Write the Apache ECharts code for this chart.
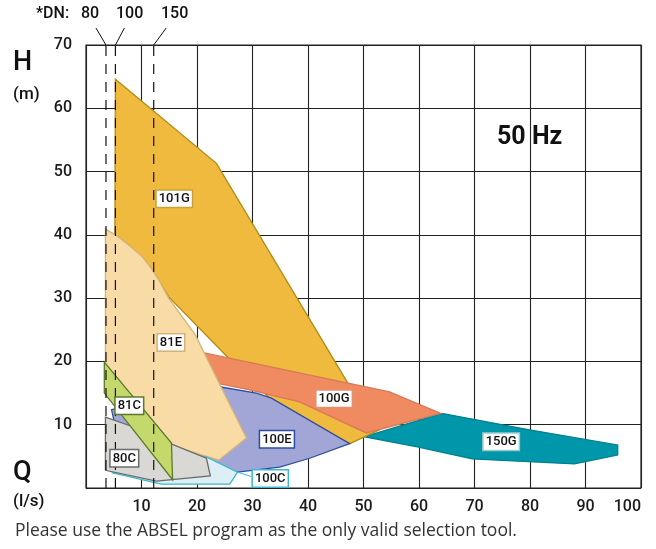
<!DOCTYPE html>
<html><head><meta charset="utf-8">
<script src="https://cdn.jsdelivr.net/npm/echarts@6/dist/echarts.min.js"></script>
<style>html,body{margin:0;padding:0;background:#fff}#c{width:656px;height:549px}</style>
</head><body><div id="c"></div>
<script>
// Axis ranges / ticks
const xMin = 0, xMax = 100, xStep = 10;
const yMin = 0, yMax = 70, yStep = 10;

// Pipe size (DN) reference lines, Q in l/s
const dnNames = ['80', '100', '150'];
const dnQ = [3.6, 5.3, 12.2];

// Operating regions [Q (l/s), H (m)]
const region150G = [[50.2,8.1],[64.1,11.8],[79.9,9.2],[95.8,6.8],[95.8,5.2],[88.0,3.8],[69.6,4.6],[59.7,6.5]];
const region101G = [[5.3,64.6],[23.5,51.3],[47.1,16.7],[52.9,9.2],[47.5,7.0],[33.4,13.9],[25.5,20.7],[14.9,30.2],[11.6,34.9],[7.7,38.4],[5.2,40.0]];
const region100G = [[20.45,21.5],[39.5,18.0],[54.7,15.2],[63.9,11.8],[50.5,8.7],[38.5,13.6],[29.5,15.5],[23.2,16.6]];
const region100E = [[4.6,12.4],[24.05,16.0],[30.7,15.0],[33.4,14.2],[47.5,7.0],[40.3,4.7],[34.9,3.3],[27.3,2.5],[11.4,3.2],[6.0,6.8]];
const region81E = [[3.5,40.9],[5.3,40.0],[7.7,38.4],[10.2,36.5],[11.6,34.9],[13.1,32.9],[14.9,30.0],[19.7,24.2],[28.9,7.9],[23.9,4.4],[15.0,6.8],[3.5,18.6]];
const region100C = [[4.8,2.4],[13.6,0.6],[25.9,0.6],[27.3,2.5],[21.7,4.9],[7.8,4.1]];
const region80C = [[3.5,11.2],[8.7,9.6],[15.0,7.1],[21.7,4.7],[22.4,1.9],[12.7,1.1],[3.5,2.8]];
const region81C = [[3.3,19.9],[15.4,7.1],[15.6,1.3],[3.3,15.0]];

// Region label names and anchor positions [Q, H]
const labelNames = ['101G','81E','100G','100E','81C','80C','100C','150G'];
const labelPos = [[15.9,45.7],[15.3,23.0],[44.7,14.1],[34.4,7.7],[7.8,13.0],[6.9,4.7],[33.2,1.5],[74.8,7.3]];

const regions = [
  {name:'150G', pts:region150G, fill:'#0097AA', stroke:'#00808F'},
  {name:'101G', pts:region101G, fill:'#EFBA3D', stroke:'#B38A12'},
  {name:'100G', pts:region100G, fill:'#F08A60', stroke:'#D97A58'},
  {name:'100E', pts:region100E, fill:'#A1A6D6', stroke:'#2D4EA0'},
  {name:'81E',  pts:region81E,  fill:'#F9DBA6', stroke:'#D2B47A'},
  {name:'100C', pts:region100C, fill:'#DDEEF5', stroke:'#3CB8D0'},
  {name:'80C',  pts:region80C,  fill:'#DAD8D5', stroke:'#6B6B6B'},
  {name:'81C',  pts:region81C,  fill:'#C5D86C', stroke:'#5B7A2E'}
];
const labelBorder = {'101G':'#C9A23A','81E':'#D2B47A','100G':'#E0926E','100E':'#2D4EA0','81C':'#5B7A2E','80C':'#6B6B6B','100C':'#3CB8D0','150G':'#9CC9D0'};

const chart = echarts.init(document.getElementById('c'), null, {renderer:'canvas'});
const FONT = 'Roboto, "Noto Sans", sans-serif';

const series = regions.map(r => ({
  type:'custom', name:r.name, clip:true, data:[[0,0]], z:2,
  renderItem:(params, api) => ({
    type:'polygon',
    shape:{points:r.pts.map(p => api.coord(p))},
    style:{fill:r.fill, stroke:r.stroke, lineWidth:1.3}
  })
}));

// DN dashed lines with leader lines
const dnOffsets = [[-10,-17],[9,-17],[12.5,-17]];
series.push({
  type:'custom', name:'DN', clip:false, z:5,
  data: dnQ.map((q,i)=>[q,i]),
  renderItem:(params, api) => {
    const q = api.value(0), i = api.value(1);
    const b = api.coord([q, yMin]), t = api.coord([q, yMax]);
    const o = dnOffsets[i];
    return {type:'group', children:[
      {type:'line', shape:{x1:b[0],y1:b[1],x2:t[0],y2:t[1]}, style:{stroke:'#111', lineWidth:1.2, lineDash:[10,8]}},
      {type:'line', shape:{x1:t[0],y1:t[1],x2:t[0]+o[0],y2:t[1]+o[1]}, style:{stroke:'#111', lineWidth:1}}
    ]};
  }
});

// Region labels
series.push({
  type:'custom', name:'labels', clip:false, z:10,
  data: labelPos.map((p,i)=>[p[0],p[1],i]),
  renderItem:(params, api) => {
    const i = api.value(2);
    const nm = labelNames[i];
    const c = api.coord([api.value(0), api.value(1)]);
    const children = [];
    if (nm === '100C') {
      const a = api.coord(region100C[3]);
      children.push({type:'line', shape:{x1:a[0],y1:a[1],x2:c[0]-19,y2:c[1]-2}, style:{stroke:'#3CB8D0', lineWidth:1}});
    }
    children.push({type:'text', x:c[0], y:c[1], style:{
      text:nm, font:'500 13px '+FONT, fill:'#111', align:'center', verticalAlign:'middle',
      backgroundColor:'#fff', borderColor:labelBorder[nm], borderWidth:1.5, padding:[2,2,1,2]
    }});
    return {type:'group', children};
  }
});

chart.setOption({
  animation:false,
  grid:{left:86, right:15, top:45, bottom:61, show:true, borderColor:'#222', borderWidth:1.2, backgroundColor:'transparent'},
  xAxis:{type:'value', min:xMin, max:xMax, interval:xStep,
    axisLine:{show:false}, axisTick:{show:false},
    splitLine:{show:true, lineStyle:{color:'#222', width:1.1}},
    axisLabel:{formatter:v=>v===0?'':String(v), color:'#1a1a1a', fontSize:16, fontWeight:500, fontFamily:FONT, margin:11, alignMaxLabel:'right'}},
  yAxis:{type:'value', min:yMin, max:yMax, interval:yStep,
    axisLine:{show:false}, axisTick:{show:false},
    splitLine:{show:true, lineStyle:{color:'#222', width:1.1}},
    axisLabel:{formatter:v=>v===0?'':String(v), color:'#1a1a1a', fontSize:16, fontWeight:500, fontFamily:FONT, margin:14}},
  graphic:[
    {type:'text', left:13, top:50, style:{text:'H', font:'500 27px '+FONT, fill:'#111'}},
    {type:'text', left:13, top:86, style:{text:'(m)', font:'500 17px '+FONT, fill:'#111'}},
    {type:'text', left:13, top:460, style:{text:'Q', font:'500 27px '+FONT, fill:'#111'}},
    {type:'text', left:13, top:493, style:{text:'(l/s)', font:'500 17px '+FONT, fill:'#111'}},
    {type:'text', left:497, top:125, style:{text:'50 Hz', font:'bold 25px '+FONT, fill:'#111'}},
    {type:'text', left:36, top:6, style:{text:'*DN:', font:'500 16px '+FONT, fill:'#111'}},
    {type:'text', left:81, top:6, style:{text:dnNames[0], font:'500 16px '+FONT, fill:'#111'}},
    {type:'text', left:116, top:6, style:{text:dnNames[1], font:'500 16px '+FONT, fill:'#111'}},
    {type:'text', left:161, top:6, style:{text:dnNames[2], font:'500 16px '+FONT, fill:'#111'}},
    {type:'text', left:15, top:522, style:{text:'Please use the ABSEL program as the only valid selection tool.', font:'17.5px "Open Sans", sans-serif', fill:'#333'}}
  ],
  series
});
</script></body></html>
